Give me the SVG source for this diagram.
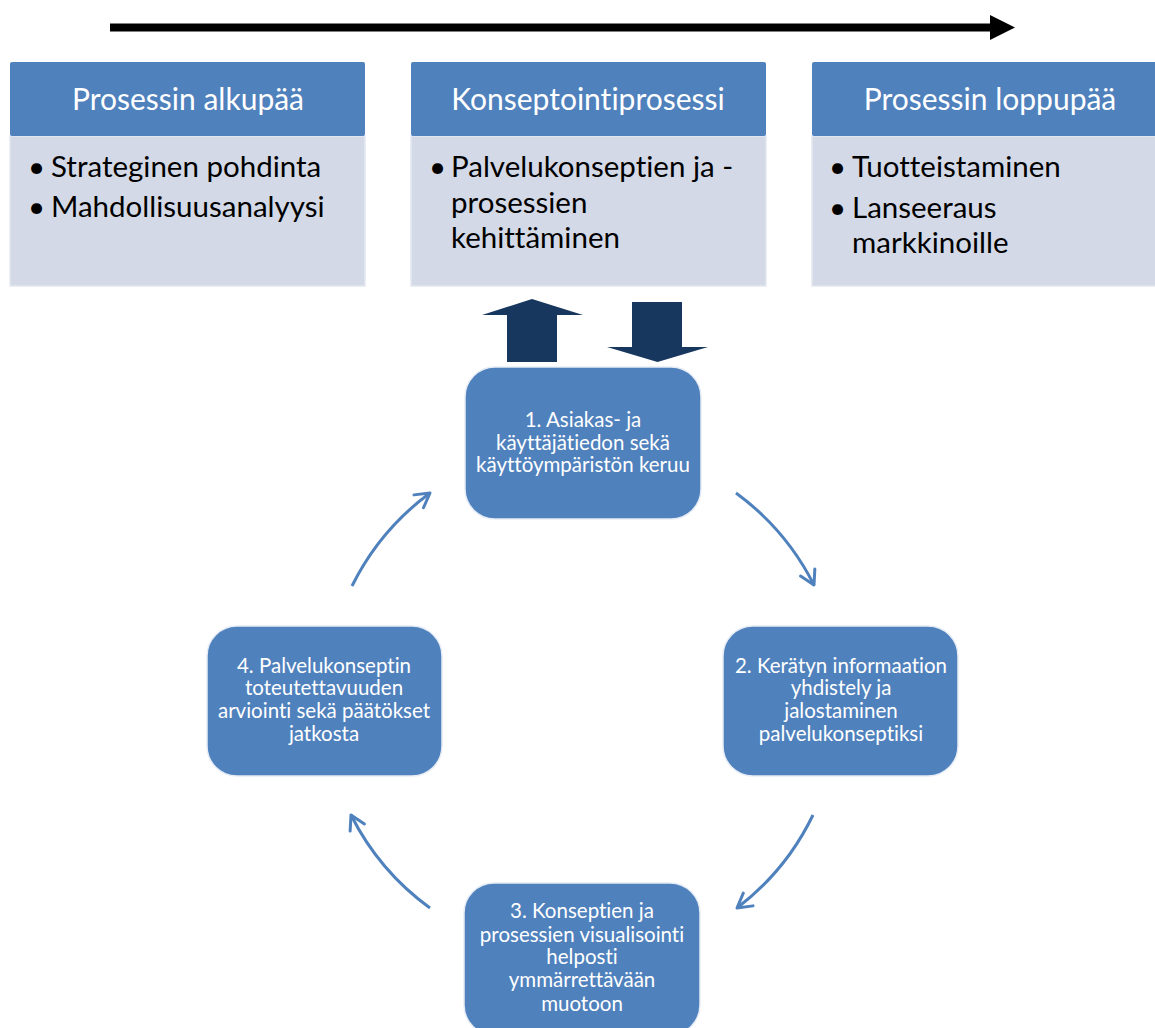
<svg xmlns="http://www.w3.org/2000/svg" width="1155" height="1028" viewBox="0 0 1155 1028">
  <style>
    text { font-variant-ligatures: none; }
    .hdr { fill: #4F81BD; }
    .body { fill: #D3D9E6; stroke: #E3E7EF; stroke-width: 1.5; }
    .hdr-text { font-family: Lato, "Liberation Sans", sans-serif; font-size: 30px; fill: #FFFFFF; text-anchor: middle; }
    .item { font-family: Lato, "Liberation Sans", sans-serif; font-size: 29.5px; fill: #000000; }
    .step { fill: #4F81BD; stroke: #E6ECF5; stroke-width: 1.5; }
    .step-text { font-family: Lato, "Liberation Sans", sans-serif; font-size: 20.5px; fill: #FFFFFF; text-anchor: middle; }
    .block { fill: #17375E; }
    .cycle { fill: none; stroke: #4F81BD; stroke-width: 3; marker-end: url(#chev); }
  </style>
  <defs>
    <marker id="chev" viewBox="0 0 20 20" refX="18" refY="10" markerWidth="20" markerHeight="20" markerUnits="userSpaceOnUse" orient="auto">
      <path d="M 4 2 L 18 10 L 4 18" fill="none" stroke="#4F81BD" stroke-width="3" stroke-linecap="round" stroke-linejoin="round"/>
    </marker>
  </defs>
  <rect width="1155" height="1028" fill="#FFFFFF"/>

  <!-- timeline arrow -->
  <g id="timeline">
    <line x1="110" y1="27.5" x2="992" y2="27.5" stroke="#000000" stroke-width="8"/>
    <polygon points="990,15 1015,27.5 990,40" fill="#000000"/>
  </g>

  <!-- phase columns -->
  <g id="phase-start">
    <rect class="body" x="10" y="136" width="355" height="150"/>
    <rect class="hdr" x="10" y="62" width="355" height="74" rx="2"/>
    <text class="hdr-text" x="188" y="110">Prosessin alkupää</text>
    <text class="item" x="28" y="177">•</text>
    <text class="item" x="51" y="177">Strateginen pohdinta</text>
    <text class="item" x="28" y="217">•</text>
    <text class="item" x="51" y="217">Mahdollisuusanalyysi</text>
  </g>

  <g id="phase-concept">
    <rect class="body" x="411" y="136" width="355" height="150"/>
    <rect class="hdr" x="411" y="62" width="355" height="74" rx="2"/>
    <text class="hdr-text" x="588" y="110">Konseptointiprosessi</text>
    <text class="item" x="429" y="177">•</text>
    <text class="item" x="451" y="177">Palvelukonseptien ja -</text>
    <text class="item" x="451" y="213">prosessien</text>
    <text class="item" x="451" y="248">kehittäminen</text>
  </g>

  <g id="phase-end">
    <rect class="body" x="812" y="136" width="355" height="150"/>
    <rect class="hdr" x="812" y="62" width="355" height="74" rx="2"/>
    <text class="hdr-text" x="990" y="110">Prosessin loppupää</text>
    <text class="item" x="829" y="177">•</text>
    <text class="item" x="852" y="177">Tuotteistaminen</text>
    <text class="item" x="829" y="218">•</text>
    <text class="item" x="852" y="218">Lanseeraus</text>
    <text class="item" x="852" y="253">markkinoille</text>
  </g>

  <!-- block arrows between the concept column and the cycle -->
  <g id="feedback-up">
    <polygon class="block" points="507,362 557,362 557,315 583,315 532,299 482,315 507,315"/>
  </g>
  <g id="feedback-down">
    <polygon class="block" points="632,302 682,302 682,347 708,347 657.5,362 607,347 632,347"/>
  </g>

  <!-- cycle steps -->
  <g id="step1">
    <rect class="step" x="465" y="367" width="236" height="152" rx="30"/>
    <text class="step-text" x="583" y="427">1. Asiakas- ja</text>
    <text class="step-text" x="583" y="450">käyttäjätiedon sekä</text>
    <text class="step-text" x="583" y="472">käyttöympäristön keruu</text>
  </g>

  <g id="step2">
    <rect class="step" x="723" y="626" width="235" height="150" rx="30"/>
    <text class="step-text" x="841" y="673">2. Kerätyn informaation</text>
    <text class="step-text" x="841" y="695">yhdistely ja</text>
    <text class="step-text" x="841" y="718">jalostaminen</text>
    <text class="step-text" x="841" y="741">palvelukonseptiksi</text>
  </g>

  <g id="step3">
    <rect class="step" x="464" y="883" width="236" height="152" rx="30"/>
    <text class="step-text" x="582" y="918">3. Konseptien ja</text>
    <text class="step-text" x="582" y="942">prosessien visualisointi</text>
    <text class="step-text" x="582" y="964">helposti</text>
    <text class="step-text" x="582" y="987">ymmärrettävään</text>
    <text class="step-text" x="582" y="1011">muotoon</text>
  </g>

  <g id="step4">
    <rect class="step" x="207" y="626" width="235" height="150" rx="30"/>
    <text class="step-text" x="324" y="673">4. Palvelukonseptin</text>
    <text class="step-text" x="324" y="695">toteutettavuuden</text>
    <text class="step-text" x="324" y="718">arviointi sekä päätökset</text>
    <text class="step-text" x="324" y="741">jatkosta</text>
  </g>

  <!-- curved connectors of the cycle -->
  <g id="connectors">
    <path class="cycle" d="M 736 493 A 258 258 0 0 1 814 585"/>
    <path class="cycle" d="M 813 815 A 258 258 0 0 1 737 908"/>
    <path class="cycle" d="M 430 908 A 258 258 0 0 1 351 815"/>
    <path class="cycle" d="M 352 586 A 258 258 0 0 1 430 493"/>
  </g>
</svg>
